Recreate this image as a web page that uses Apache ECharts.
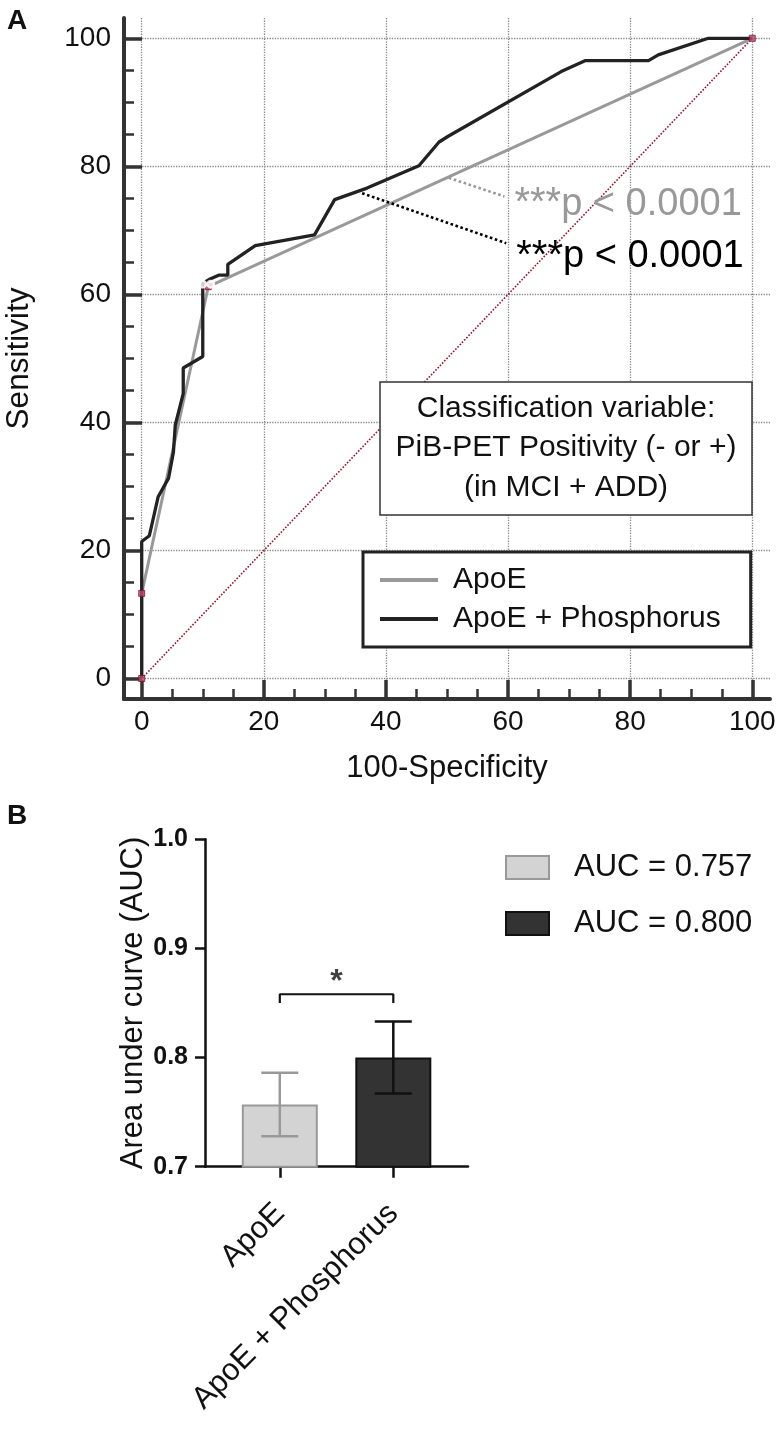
<!DOCTYPE html>
<html><head><meta charset="utf-8">
<script src="https://cdn.jsdelivr.net/npm/echarts@6.0.0/dist/echarts.min.js"></script>
<style>html,body{margin:0;padding:0;background:#fff}#c{width:784px;height:1429px}</style>
</head><body><div id="c"></div>
<script>
// ---------- Panel A: ROC curves ----------
const rocTicks = [0, 20, 40, 60, 80, 100];
const rocMinorTicks = [5, 10, 15, 25, 30, 35, 45, 50, 55, 65, 70, 75, 85, 90, 95];
const apoeRoc = [[0, 0], [0, 13.3], [10.9, 61.2], [100, 100]];
const apoePhosRoc = [[0, 0], [0, 21.4], [1.25, 22.3], [2.7, 28.4], [4.4, 31.3], [5.2, 35.4], [5.5, 39.6],
  [6.8, 44.5], [6.8, 48.5], [10.0, 50.3], [10.0, 61.7], [11.2, 62.4], [12.6, 63.0], [14.1, 63.0],
  [14.1, 64.7], [18.6, 67.6], [28.3, 69.3], [31.6, 74.8], [36.9, 76.6], [45.4, 80.1], [48.7, 83.8],
  [50.2, 84.7], [68.7, 94.8], [72.6, 96.5], [83.0, 96.5], [84.6, 97.4], [92.8, 100], [100, 100]];
const cutoffPoints = [[10.0, 61.6], [11.3, 61.6]];
const chanceLine = [[0, 0], [100, 100]];
const apoeLink = [[50.3, 78.2], [59.4, 75.3]];
const apoePhosLink = [[36.1, 75.8], [59.7, 68.0]];
const pStars = '***';
const pValueText = 'p < 0.0001';
const rocNames = ['ApoE', 'ApoE + Phosphorus'];
const boxLines = ['Classification variable:', 'PiB-PET Positivity (- or +)', '(in MCI + ADD)'];

// ---------- Panel B: AUC bars ----------
const aucCategories = ['ApoE', 'ApoE + Phosphorus'];
const aucNames = ['AUC = 0.757', 'AUC = 0.800'];
const aucValues = [0.757, 0.800];
const aucErrors = [0.029, 0.033];
const aucTicks = [0.7, 0.8, 0.9, 1.0];
const sigBracket = [[0, 0.850], [0, 0.858], [1, 0.858], [1, 0.850]];
const sigMark = [[0.5, 0.869]];
const sigText = '*';

const FONT = 'Liberation Sans, Arial, sans-serif';
const AX = '#333';

function linkSeries(points, color, offY) {
  return {
    type: 'line', xAxisIndex: 0, yAxisIndex: 0, silent: true, z: 6,
    symbol: 'circle', symbolSize: 0.1, showSymbol: true,
    itemStyle: { color: color },
    lineStyle: { color: color, width: 2.6, type: 'dotted' },
    data: points.map((p, i) => i === points.length - 1 ? {
      value: p,
      label: {
        show: true, position: 'right', distance: 10, offset: [0, offY],
        formatter: '{s|' + pStars + '}{p|' + pValueText + '}',
        rich: {
          s: { fontSize: 40, color: color, fontFamily: FONT },
          p: { fontSize: 38, color: color, fontFamily: FONT }
        }
      }
    } : { value: p })
  };
}

const chart = echarts.init(document.getElementById('c'), null, { renderer: 'canvas' });
chart.setOption({
  animation: false,
  backgroundColor: '#fff',
  textStyle: { fontFamily: FONT, color: '#111' },
  title: [
    { text: 'A', left: 7, top: 7, padding: 0, textStyle: { fontSize: 28, fontWeight: 'bold', color: '#111', fontFamily: FONT } },
    { text: 'B', left: 7, top: 802, padding: 0, textStyle: { fontSize: 28, fontWeight: 'bold', color: '#111', fontFamily: FONT } }
  ],
  grid: [
    { left: 124, top: 18, width: 646, height: 681, outerBoundsMode: 'none', containLabel: false },
    { left: 205, top: 839.3, width: 263, height: 327.4, outerBoundsMode: 'none', containLabel: false }
  ],
  legend: [
    {
      left: 363, top: 552, orient: 'vertical', padding: [13, 30, 13, 17], itemGap: 9,
      itemWidth: 58, itemHeight: 4, backgroundColor: '#fff', borderColor: '#222', borderWidth: 3,
      selectedMode: false,
      textStyle: { fontSize: 30, color: '#111', fontFamily: FONT, padding: [0, 0, 0, 10] },
      data: [
        { name: rocNames[0], icon: 'rect', itemStyle: { color: '#999', borderWidth: 0 } },
        { name: rocNames[1], icon: 'rect', itemStyle: { color: '#222', borderWidth: 0 } }
      ]
    },
    {
      left: 505, top: 852, orient: 'vertical', padding: 0, itemGap: 25,
      itemWidth: 43, itemHeight: 23, icon: 'rect', selectedMode: false,
      textStyle: { fontSize: 31, color: '#111', fontFamily: FONT, padding: [0, 0, 0, 20] },
      data: aucNames
    }
  ],
  xAxis: [
    {
      type: 'value', gridIndex: 0, min: -2.9, max: 102.9, position: 'bottom',
      axisLine: { show: true, onZero: false, lineStyle: { color: AX, width: 4 } },
      axisTick: { show: true, inside: true, length: 19, customValues: rocTicks, lineStyle: { color: AX, width: 3.5 } },
      axisLabel: { show: true, customValues: rocTicks, fontSize: 28, color: '#111', margin: 9, fontFamily: FONT },
      splitLine: { show: true, lineStyle: { type: 'dotted', color: '#888', width: 1.3 } },
      name: '100-Specificity', nameLocation: 'middle', nameGap: 54, nameMoveOverlap: false,
      nameTextStyle: { fontSize: 31, color: '#111', fontFamily: FONT }
    },
    {
      type: 'value', gridIndex: 0, min: -2.9, max: 102.9, position: 'bottom',
      axisLine: { show: false, onZero: false },
      axisTick: { show: true, inside: true, length: 10, customValues: rocMinorTicks, lineStyle: { color: AX, width: 2.5 } },
      axisLabel: { show: false }, splitLine: { show: false }
    },
    {
      type: 'value', gridIndex: 1, min: -0.659, max: 1.658, position: 'bottom',
      axisLine: { show: true, onZero: false, lineStyle: { color: '#111', width: 2.5 } },
      axisTick: { show: true, length: 11, customValues: [0, 1], lineStyle: { color: '#111', width: 2.5 } },
      axisLabel: {
        show: true, customValues: [0, 1], formatter: v => aucCategories[Math.round(v)],
        rotate: 45, fontSize: 31, color: '#111', margin: 42, fontFamily: FONT
      },
      splitLine: { show: false }
    }
  ],
  yAxis: [
    {
      type: 'value', gridIndex: 0, min: -3.2, max: 103.17, position: 'left',
      axisLine: { show: true, onZero: false, lineStyle: { color: AX, width: 4 } },
      axisTick: { show: true, inside: true, length: 18, customValues: rocTicks, lineStyle: { color: AX, width: 3.5 } },
      axisLabel: { show: true, customValues: rocTicks, fontSize: 28, color: '#111', margin: 13, fontFamily: FONT },
      splitLine: { show: true, lineStyle: { type: 'dotted', color: '#888', width: 1.3 } },
      name: 'Sensitivity', nameLocation: 'middle', nameGap: 89, nameMoveOverlap: false,
      nameTextStyle: { fontSize: 31.5, color: '#111', fontFamily: FONT }
    },
    {
      type: 'value', gridIndex: 0, min: -3.2, max: 103.17, position: 'left',
      axisLine: { show: false, onZero: false },
      axisTick: { show: true, inside: true, length: 10, customValues: rocMinorTicks, lineStyle: { color: AX, width: 2.5 } },
      axisLabel: { show: false }, splitLine: { show: false }
    },
    {
      type: 'value', gridIndex: 1, min: 0.7, max: 1.0, position: 'left',
      axisLine: { show: true, onZero: false, lineStyle: { color: '#111', width: 2.5 } },
      axisTick: { show: true, length: 10, customValues: aucTicks, lineStyle: { color: '#111', width: 2.5 } },
      axisLabel: {
        show: true, customValues: aucTicks, formatter: v => v.toFixed(1), fontSize: 25, fontWeight: 'bold',
        color: '#111', margin: 17, fontFamily: 'Liberation Sans Narrow, Liberation Sans, Arial, sans-serif'
      },
      splitLine: { show: false },
      name: 'Area under curve (AUC)', nameLocation: 'middle', nameGap: 56, nameMoveOverlap: false,
      nameTextStyle: { fontSize: 31, color: '#111', fontFamily: FONT }
    }
  ],
  series: [
    {
      type: 'line', name: 'chance', xAxisIndex: 0, yAxisIndex: 0, data: chanceLine, symbol: 'none', silent: true, z: 2,
      lineStyle: { color: '#8b1a2a', width: 1.6, type: 'dotted' }
    },
    {
      type: 'line', name: rocNames[0], xAxisIndex: 0, yAxisIndex: 0, data: apoeRoc, symbol: 'none', silent: true, z: 3,
      color: '#999', lineStyle: { color: '#999', width: 3 }
    },
    {
      type: 'line', name: rocNames[1], xAxisIndex: 0, yAxisIndex: 0, data: apoePhosRoc, symbol: 'none', silent: true, z: 4,
      color: '#222', lineStyle: { color: '#222', width: 3.3 }
    },
    {
      type: 'scatter', name: 'apoePoints', xAxisIndex: 0, yAxisIndex: 0, data: apoeRoc, symbol: 'rect', symbolSize: 6, silent: true, z: 5,
      itemStyle: { color: '#c04a6a', borderColor: '#7a1530', borderWidth: 1 }
    },
    {
      type: 'scatter', name: 'cutoffs', xAxisIndex: 0, yAxisIndex: 0, data: cutoffPoints, symbol: 'emptyCircle', symbolSize: 7, silent: true, z: 5,
      itemStyle: { color: '#fff', borderColor: '#1a1a80', borderWidth: 2 }
    },
    linkSeries(apoeLink, '#999', 8),
    linkSeries(apoePhosLink, '#000', 13.5),
    {
      type: 'bar', name: aucNames[0], xAxisIndex: 2, yAxisIndex: 2, data: [[0, aucValues[0]]],
      barWidth: 76, barGap: '-100%', silent: true,
      itemStyle: { color: '#d3d3d3', borderColor: '#999', borderWidth: 2 }
    },
    {
      type: 'bar', name: aucNames[1], xAxisIndex: 2, yAxisIndex: 2, data: [[1, aucValues[1]]],
      barWidth: 76, barGap: '-100%', silent: true,
      itemStyle: { color: '#333', borderColor: '#111', borderWidth: 2 }
    },
    {
      type: 'custom', name: 'errors', xAxisIndex: 2, yAxisIndex: 2, silent: true, z: 4,
      data: aucValues.map((v, i) => [i, v - aucErrors[i], v + aucErrors[i]]),
      encode: { x: 0, y: [1, 2] },
      renderItem: function (params, api) {
        const x = api.value(0);
        const lo = api.coord([x, api.value(1)]);
        const hi = api.coord([x, api.value(2)]);
        const w = 18.5;
        const st = { stroke: params.dataIndex === 0 ? '#999' : '#111', lineWidth: 2.5 };
        return {
          type: 'group', children: [
            { type: 'line', shape: { x1: lo[0], y1: lo[1], x2: hi[0], y2: hi[1] }, style: st },
            { type: 'line', shape: { x1: hi[0] - w, y1: hi[1], x2: hi[0] + w, y2: hi[1] }, style: st },
            { type: 'line', shape: { x1: lo[0] - w, y1: lo[1], x2: lo[0] + w, y2: lo[1] }, style: st }
          ]
        };
      }
    },
    {
      type: 'line', name: 'bracket', xAxisIndex: 2, yAxisIndex: 2, data: sigBracket, symbol: 'none', silent: true,
      lineStyle: { color: '#111', width: 2.2 }
    },
    {
      type: 'scatter', name: 'sig', xAxisIndex: 2, yAxisIndex: 2, data: sigMark, symbolSize: 1, silent: true,
      itemStyle: { color: 'rgba(0,0,0,0)' },
      label: { show: true, position: 'inside', formatter: sigText, fontSize: 32, fontWeight: 'bold', color: '#111', fontFamily: FONT }
    }
  ],
  graphic: [
    {
      type: 'rect', z: 100, shape: { x: 380, y: 382, width: 372, height: 133 },
      style: { fill: '#fff', stroke: '#333', lineWidth: 1.5 }
    },
    {
      type: 'text', z: 101, x: 566, y: 448,
      style: {
        text: boxLines.join('\n'), align: 'center', verticalAlign: 'middle',
        font: '30px ' + FONT, lineHeight: 39.5, fill: '#111'
      }
    }
  ]
});
</script>
</body></html>
